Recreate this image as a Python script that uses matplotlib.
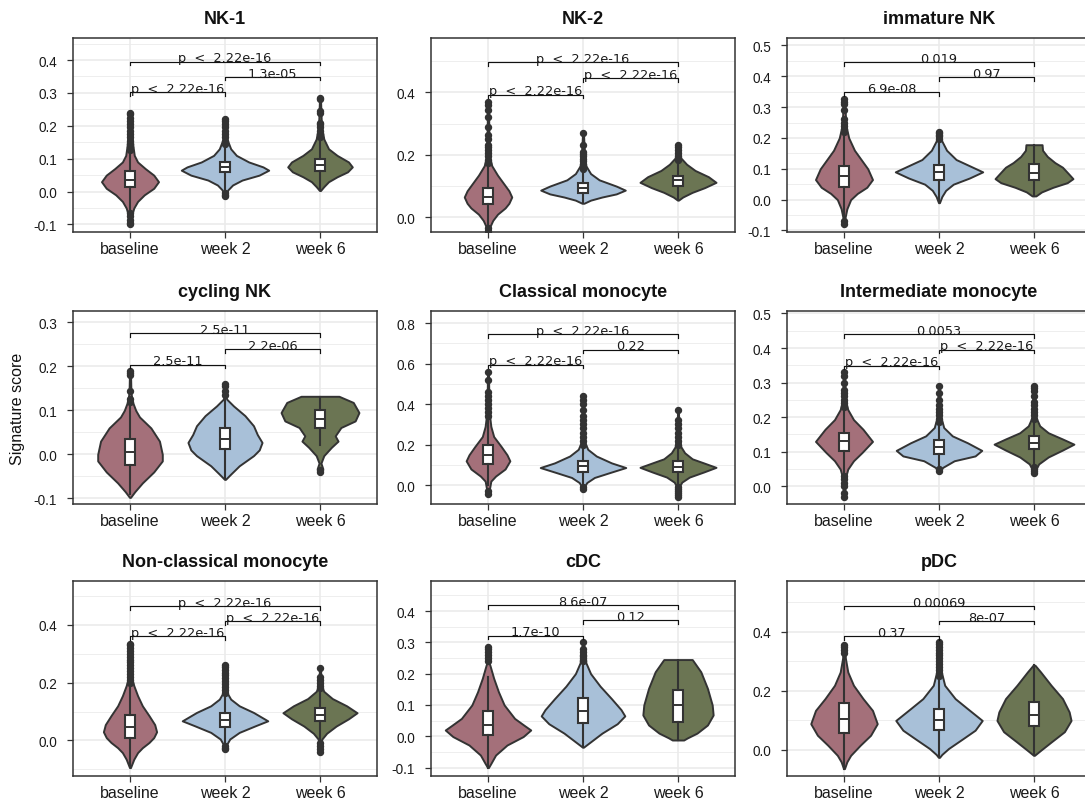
import numpy as np
import matplotlib
matplotlib.use("Agg")
import matplotlib.pyplot as plt
from matplotlib.ticker import AutoMinorLocator, NullLocator

plt.rcParams["font.family"] = ["Liberation Sans", "DejaVu Sans"]
plt.rcParams["axes.unicode_minus"] = False

GROUPS = ["baseline", "week 2", "week 6"]
COLORS = ["#A4707A", "#A8C0D8", "#6B7553"]
EDGE = "#333333"

TITLES = ["NK-1", "NK-2", "immature NK", "cycling NK", "Classical monocyte",
          "Intermediate monocyte", "Non-classical monocyte", "cDC", "pDC"]

# comparison order: baseline-week2, week2-week6, baseline-week6
PVALS = [
    ["p  <  2.22e-16", "1.3e-05", "p  <  2.22e-16"],
    ["p  <  2.22e-16", "p  <  2.22e-16", "p  <  2.22e-16"],
    ["6.9e-08", "0.97", "0.019"],
    ["2.5e-11", "2.2e-06", "2.5e-11"],
    ["p  <  2.22e-16", "0.22", "p  <  2.22e-16"],
    ["p  <  2.22e-16", "p  <  2.22e-16", "0.0053"],
    ["p  <  2.22e-16", "p  <  2.22e-16", "p  <  2.22e-16"],
    ["1.7e-10", "0.12", "8.6e-07"],
    ["0.37", "8e-07", "0.00069"],
]
BRACKET_Y = [
    [0.302, 0.349, 0.395],
    [0.393, 0.445, 0.496],
    [0.348, 0.396, 0.446],
    [0.204, 0.239, 0.275],
    [0.595, 0.669, 0.746],
    [0.349, 0.395, 0.440],
    [0.361, 0.413, 0.465],
    [0.321, 0.370, 0.418],
    [0.385, 0.437, 0.488],
]

# violin outlines: score levels and half widths (per group)
NK1_VY = [[0.24, 0.18, 0.14, 0.11, 0.09, 0.07, 0.05, 0.03, 0.01, -0.01, -0.03, -0.05, -0.07, -0.10],
          [0.22, 0.16, 0.13, 0.11, 0.09, 0.075, 0.065, 0.05, 0.035, 0.02, 0.005, -0.015],
          [0.285, 0.2, 0.16, 0.13, 0.11, 0.09, 0.075, 0.06, 0.045, 0.03, 0.015, 0.003]]
NK1_VW = [[0.005, 0.02, 0.03, 0.045, 0.08, 0.16, 0.25, 0.30, 0.25, 0.15, 0.08, 0.04, 0.02, 0.005],
          [0.005, 0.02, 0.06, 0.12, 0.25, 0.40, 0.46, 0.36, 0.18, 0.08, 0.03, 0.005],
          [0.005, 0.015, 0.04, 0.09, 0.18, 0.30, 0.34, 0.29, 0.18, 0.09, 0.04, 0.005]]
NK1_BOX = [[-0.055, 0.013, 0.035, 0.062, 0.12], [0.0, 0.058, 0.075, 0.09, 0.14], [0.005, 0.061, 0.08, 0.10, 0.16]]
NK1_OUT = [[0.125, 0.135, 0.145, 0.155, 0.165, 0.175, 0.185, 0.195, 0.205, 0.215, 0.225, 0.235, 0.24,
            -0.065, -0.075, -0.085, -0.095, -0.10],
           [0.145, 0.155, 0.165, 0.175, 0.185, 0.195, 0.205, 0.215, 0.22, -0.005, -0.01, -0.015],
           [0.165, 0.175, 0.185, 0.195, 0.205, 0.21, 0.24, 0.245, 0.28, 0.285]]

NK2_VY = [[0.37, 0.25, 0.19, 0.165, 0.135, 0.11, 0.085, 0.065, 0.045, 0.03, 0.01, -0.01, -0.03, -0.055],
          [0.27, 0.2, 0.165, 0.14, 0.12, 0.10, 0.087, 0.075, 0.065, 0.055, 0.045],
          [0.23, 0.19, 0.17, 0.15, 0.13, 0.112, 0.095, 0.08, 0.065, 0.055]]
NK2_VW = [[0.005, 0.01, 0.02, 0.04, 0.10, 0.16, 0.22, 0.25, 0.22, 0.18, 0.10, 0.05, 0.02, 0.005],
          [0.005, 0.015, 0.03, 0.08, 0.17, 0.35, 0.445, 0.35, 0.2, 0.08, 0.01],
          [0.005, 0.03, 0.09, 0.18, 0.32, 0.40, 0.28, 0.15, 0.05, 0.005]]
NK2_BOX = [[-0.025, 0.042, 0.065, 0.093, 0.17], [0.05, 0.078, 0.094, 0.11, 0.15], [0.06, 0.099, 0.118, 0.132, 0.18]]
NK2_OUT = [[0.175, 0.185, 0.195, 0.205, 0.215, 0.225, 0.23, 0.25, 0.265, 0.29, 0.32, 0.345, 0.36, 0.37,
            -0.035, -0.045, -0.055],
           [0.155, 0.163, 0.171, 0.179, 0.187, 0.195, 0.203, 0.21, 0.23, 0.27],
           [0.185, 0.195, 0.205, 0.215, 0.225, 0.23]]

IMM_VY = [[0.33, 0.24, 0.2, 0.16, 0.13, 0.1, 0.065, 0.04, 0.02, 0.0, -0.03, -0.06, -0.08],
          [0.22, 0.19, 0.16, 0.13, 0.11, 0.09, 0.07, 0.05, 0.03, 0.01, -0.01],
          [0.178, 0.16, 0.14, 0.12, 0.105, 0.085, 0.068, 0.055, 0.04, 0.025, 0.012]]
IMM_VW = [[0.005, 0.02, 0.05, 0.11, 0.18, 0.25, 0.30, 0.24, 0.14, 0.07, 0.03, 0.01, 0.005],
          [0.005, 0.03, 0.08, 0.18, 0.32, 0.46, 0.32, 0.15, 0.07, 0.03, 0.005],
          [0.085, 0.09, 0.14, 0.22, 0.30, 0.36, 0.41, 0.35, 0.2, 0.08, 0.02]]
IMM_BOX = [[-0.06, 0.04, 0.075, 0.11, 0.21], [-0.005, 0.062, 0.09, 0.113, 0.19], [0.012, 0.062, 0.085, 0.114, 0.178]]
IMM_OUT = [[0.22, 0.23, 0.24, 0.25, 0.26, 0.29, 0.31, 0.315, 0.325, -0.07, -0.08],
           [0.195, 0.205, 0.21, 0.215, 0.22],
           []]

CYC_VY = [[0.19, 0.14, 0.12, 0.10, 0.085, 0.06, 0.03, 0.0, -0.015, -0.04, -0.065, -0.085, -0.098],
          [0.16, 0.13, 0.125, 0.11, 0.088, 0.065, 0.045, 0.027, 0.01, -0.003, -0.026, -0.045, -0.057],
          [0.132, 0.118, 0.095, 0.076, 0.061, 0.042, 0.03, 0.016, -0.003, -0.02, -0.033, -0.042]]
CYC_VW = [[0.005, 0.01, 0.025, 0.06, 0.10, 0.22, 0.31, 0.34, 0.34, 0.25, 0.13, 0.05, 0.005],
          [0.005, 0.01, 0.02, 0.09, 0.21, 0.30, 0.34, 0.39, 0.36, 0.30, 0.15, 0.06, 0.005],
          [0.2, 0.35, 0.41, 0.37, 0.22, 0.16, 0.19, 0.12, 0.04, 0.01, 0.03, 0.005]]
CYC_BOX = [[-0.09, -0.024, 0.005, 0.035, 0.12], [-0.055, 0.011, 0.035, 0.059, 0.13], [0.022, 0.061, 0.08, 0.10, 0.13]]
CYC_OUT = [[0.12, 0.125, 0.145, 0.18, 0.185, 0.19],
           [0.135, 0.145, 0.155, 0.16],
           [-0.035, -0.04]]

CLA_VY = [[0.56, 0.4, 0.33, 0.29, 0.24, 0.19, 0.15, 0.12, 0.08, 0.045, 0.02, -0.045],
          [0.44, 0.3, 0.21, 0.177, 0.144, 0.11, 0.087, 0.062, 0.038, 0.013, -0.01, -0.02],
          [0.37, 0.25, 0.19, 0.16, 0.13, 0.11, 0.088, 0.065, 0.04, 0.015, -0.01, -0.06]]
CLA_VW = [[0.005, 0.01, 0.02, 0.03, 0.06, 0.14, 0.2, 0.23, 0.18, 0.08, 0.03, 0.005],
          [0.005, 0.01, 0.02, 0.05, 0.14, 0.3, 0.45, 0.28, 0.12, 0.04, 0.01, 0.005],
          [0.005, 0.01, 0.03, 0.07, 0.15, 0.27, 0.40, 0.27, 0.12, 0.04, 0.01, 0.005]]
CLA_BOX = [[0.0, 0.103, 0.15, 0.2, 0.33], [-0.005, 0.066, 0.093, 0.12, 0.2], [0.0, 0.067, 0.092, 0.12, 0.19]]
CLA_OUT = [[0.34, 0.36, 0.38, 0.40, 0.42, 0.44, 0.46, 0.52, 0.56, -0.03, -0.045],
           [0.2, 0.22, 0.24, 0.26, 0.28, 0.3, 0.32, 0.34, 0.37, 0.40, 0.42, 0.44, -0.01, -0.02],
           [0.2, 0.22, 0.24, 0.26, 0.28, 0.3, 0.32, 0.37, -0.01, -0.02, -0.03, -0.04, -0.05, -0.06]]

INT_VY = [[0.33, 0.25, 0.222, 0.193, 0.165, 0.13, 0.098, 0.074, 0.05, 0.03, 0.0, -0.03],
          [0.29, 0.2, 0.17, 0.146, 0.126, 0.104, 0.088, 0.074, 0.055, 0.045],
          [0.29, 0.2, 0.175, 0.155, 0.137, 0.122, 0.105, 0.085, 0.065, 0.045, 0.038]]
INT_VW = [[0.005, 0.015, 0.04, 0.1, 0.2, 0.3, 0.19, 0.1, 0.04, 0.02, 0.01, 0.005],
          [0.005, 0.02, 0.05, 0.14, 0.3, 0.45, 0.38, 0.16, 0.04, 0.005],
          [0.005, 0.02, 0.06, 0.15, 0.3, 0.42, 0.3, 0.15, 0.05, 0.01, 0.005]]
INT_BOX = [[0.04, 0.103, 0.13, 0.155, 0.22], [0.055, 0.095, 0.115, 0.134, 0.18], [0.06, 0.107, 0.125, 0.146, 0.19]]
INT_OUT = [[0.23, 0.24, 0.25, 0.26, 0.27, 0.28, 0.30, 0.32, 0.33, 0.03, 0.02, 0.01, 0.0, -0.02, -0.03],
           [0.185, 0.195, 0.205, 0.215, 0.225, 0.235, 0.25, 0.27, 0.29, 0.05, 0.045],
           [0.195, 0.205, 0.215, 0.225, 0.235, 0.245, 0.26, 0.275, 0.285, 0.29, 0.055, 0.05, 0.045, 0.04]]

NCL_VY = [[0.335, 0.22, 0.19, 0.155, 0.12, 0.086, 0.055, 0.03, 0.01, -0.007, -0.025, -0.042, -0.065, -0.094],
          [0.26, 0.19, 0.166, 0.143, 0.12, 0.097, 0.068, 0.051, 0.028, 0.005, -0.018, -0.03],
          [0.25, 0.19, 0.17, 0.145, 0.12, 0.096, 0.075, 0.05, 0.025, 0.005, -0.01, -0.04]]
NCL_VW = [[0.005, 0.015, 0.04, 0.08, 0.13, 0.2, 0.26, 0.28, 0.25, 0.2, 0.13, 0.08, 0.04, 0.005],
          [0.005, 0.01, 0.02, 0.06, 0.15, 0.3, 0.45, 0.32, 0.15, 0.05, 0.01, 0.005],
          [0.005, 0.015, 0.04, 0.13, 0.28, 0.39, 0.3, 0.17, 0.07, 0.02, 0.01, 0.005]]
NCL_BOX = [[-0.09, 0.008, 0.045, 0.089, 0.19], [-0.015, 0.045, 0.07, 0.095, 0.16], [-0.005, 0.068, 0.088, 0.114, 0.175]]
NCL_OUT = [[0.2, 0.21, 0.22, 0.23, 0.24, 0.25, 0.26, 0.27, 0.28, 0.29, 0.30, 0.31, 0.32, 0.33, 0.335],
           [0.165, 0.175, 0.185, 0.195, 0.205, 0.215, 0.225, 0.235, 0.245, 0.255, 0.26, -0.02, -0.025, -0.03],
           [0.18, 0.19, 0.2, 0.21, 0.22, 0.25, -0.01, -0.02, -0.03, -0.04]]

CDC_VY = [[0.285, 0.235, 0.227, 0.185, 0.142, 0.1, 0.057, 0.035, 0.02, -0.001, -0.028, -0.06, -0.087, -0.1],
          [0.3, 0.235, 0.2, 0.16, 0.12, 0.085, 0.065, 0.04, 0.01, -0.02, -0.035],
          [0.245, 0.206, 0.153, 0.1, 0.068, 0.036, 0.01, -0.005, -0.012]]
CDC_VW = [[0.005, 0.01, 0.02, 0.06, 0.11, 0.17, 0.28, 0.38, 0.45, 0.37, 0.2, 0.08, 0.03, 0.005],
          [0.005, 0.03, 0.08, 0.18, 0.3, 0.4, 0.44, 0.36, 0.2, 0.07, 0.005],
          [0.15, 0.24, 0.31, 0.36, 0.37, 0.31, 0.2, 0.1, 0.06]]
CDC_BOX = [[-0.1, 0.004, 0.035, 0.08, 0.19], [-0.035, 0.043, 0.08, 0.121, 0.235], [-0.012, 0.044, 0.1, 0.148, 0.245]]
CDC_OUT = [[0.24, 0.25, 0.26, 0.27, 0.28, 0.285],
           [0.24, 0.245, 0.25, 0.255, 0.26, 0.27, 0.28, 0.3],
           []]

PDC_VY = [[0.355, 0.31, 0.264, 0.219, 0.174, 0.134, 0.089, 0.05, 0.016, -0.018, -0.04, -0.063],
          [0.365, 0.27, 0.219, 0.174, 0.14, 0.1, 0.067, 0.038, 0.005, -0.015, -0.025],
          [0.287, 0.264, 0.219, 0.174, 0.129, 0.1, 0.062, 0.027, -0.001, -0.018]]
PDC_VW = [[0.005, 0.015, 0.04, 0.1, 0.2, 0.3, 0.35, 0.28, 0.17, 0.07, 0.03, 0.005],
          [0.005, 0.02, 0.06, 0.17, 0.3, 0.455, 0.38, 0.25, 0.1, 0.03, 0.005],
          [0.01, 0.07, 0.18, 0.3, 0.37, 0.39, 0.32, 0.18, 0.07, 0.005]]
PDC_BOX = [[-0.063, 0.057, 0.105, 0.159, 0.32], [-0.025, 0.067, 0.1, 0.138, 0.245], [-0.018, 0.08, 0.12, 0.163, 0.287]]
PDC_OUT = [[0.33, 0.34, 0.35, 0.355],
           [0.25, 0.26, 0.27, 0.28, 0.29, 0.30, 0.31, 0.32, 0.33, 0.34, 0.35, 0.36, 0.365],
           []]

VIOLIN_Y = [NK1_VY, NK2_VY, IMM_VY, CYC_VY, CLA_VY, INT_VY, NCL_VY, CDC_VY, PDC_VY]
VIOLIN_W = [NK1_VW, NK2_VW, IMM_VW, CYC_VW, CLA_VW, INT_VW, NCL_VW, CDC_VW, PDC_VW]
BOXES = [NK1_BOX, NK2_BOX, IMM_BOX, CYC_BOX, CLA_BOX, INT_BOX, NCL_BOX, CDC_BOX, PDC_BOX]
OUTLIERS = [NK1_OUT, NK2_OUT, IMM_OUT, CYC_OUT, CLA_OUT, INT_OUT, NCL_OUT, CDC_OUT, PDC_OUT]

# axis ranges and ticks
YLIMS = [(-0.123, 0.467), (-0.047, 0.574), (-0.105, 0.524),
         (-0.113, 0.326), (-0.093, 0.86), (-0.051, 0.507),
         (-0.123, 0.552), (-0.127, 0.496), (-0.088, 0.572)]
YTICKS = [[-0.1, 0.0, 0.1, 0.2, 0.3, 0.4], [0.0, 0.2, 0.4], [-0.1, 0.0, 0.1, 0.2, 0.3, 0.4, 0.5],
          [-0.1, 0.0, 0.1, 0.2, 0.3], [0.0, 0.2, 0.4, 0.6, 0.8], [0.0, 0.1, 0.2, 0.3, 0.4, 0.5],
          [0.0, 0.2, 0.4], [-0.1, 0.0, 0.1, 0.2, 0.3, 0.4], [0.0, 0.2, 0.4]]


def draw_panel(ax, i):
    pos = [1, 2, 3]
    vstats = []
    for yy, ww, b in zip(VIOLIN_Y[i], VIOLIN_W[i], BOXES[i]):
        yy = np.asarray(yy)
        vstats.append(dict(coords=yy, vals=np.asarray(ww), mean=b[2], median=b[2],
                           min=yy.min(), max=yy.max()))
    widths = [2 * max(w) for w in VIOLIN_W[i]]
    parts = ax.violin(vstats, positions=pos, widths=widths, showextrema=False)
    for body, c in zip(parts["bodies"], COLORS):
        body.set_facecolor(c)
        body.set_edgecolor(EDGE)
        body.set_linewidth(1.4)
        body.set_alpha(1)
        body.set_zorder(2)

    bstats = [dict(whislo=b[0], q1=b[1], med=b[2], q3=b[3], whishi=b[4], fliers=np.asarray(f))
              for b, f in zip(BOXES[i], OUTLIERS[i])]
    ax.bxp(bstats, positions=pos, widths=0.11, patch_artist=True, showcaps=False,
           manage_ticks=False, zorder=3,
           boxprops=dict(facecolor="white", edgecolor=EDGE, linewidth=1.5),
           medianprops=dict(color=EDGE, linewidth=1.4),
           whiskerprops=dict(color=EDGE, linewidth=1.5),
           flierprops=dict(marker="o", markerfacecolor=EDGE, markeredgecolor=EDGE,
                           markersize=4.3, linestyle="none"))

    # significance brackets
    lo, hi = YLIMS[i]
    tip = 0.018 * (hi - lo)
    for (a, b), y, txt in zip([(1, 2), (2, 3), (1, 3)], BRACKET_Y[i], PVALS[i]):
        ax.plot([a, a, b, b], [y - tip, y, y, y - tip], color="#111111", lw=0.85, zorder=4)
        ax.annotate(txt, xy=((a + b) / 2, y), xytext=(0, 0.2), textcoords="offset points",
                    ha="center", va="baseline", fontsize=9.3, family="DejaVu Sans",
                    color="#1a1a1a", zorder=5)

    ax.set_xlim(0.4, 3.6)
    ax.set_ylim(lo, hi)
    ax.set_xticks(pos)
    ax.set_xticklabels(GROUPS)
    ax.set_yticks(YTICKS[i])
    ax.set_yticklabels([f"{t:.1f}" for t in YTICKS[i]])
    ax.yaxis.set_minor_locator(AutoMinorLocator(2))
    ax.xaxis.set_minor_locator(NullLocator())
    ax.tick_params(axis="x", labelsize=11.5, colors=EDGE, length=4.5, width=0.9, pad=2,
                   labelcolor="#1a1a1a")
    ax.tick_params(axis="y", labelsize=9.8, colors=EDGE, length=4.5, width=0.9, pad=7,
                   labelcolor="#1a1a1a")
    ax.tick_params(which="minor", length=0)
    ax.grid(which="major", color="#EBEBEB", lw=1.2)
    ax.grid(which="minor", axis="y", color="#EBEBEB", lw=0.6)
    ax.set_axisbelow(True)
    for s in ax.spines.values():
        s.set_color(EDGE)
        s.set_linewidth(1.1)
    ax.set_title(TITLES[i], fontsize=13, fontweight="bold", pad=11, color="#111111")


fig = plt.figure(figsize=(10.85, 8.03), dpi=100)
W, H = 1085.0, 803.0
col_left = [73, 431, 787]
row_top = [39, 312, 582]
row_bot = [233, 505, 777]
for i in range(9):
    r, c = divmod(i, 3)
    ax = fig.add_axes([col_left[c] / W, (H - row_bot[r]) / H, 304 / W, (row_bot[r] - row_top[r]) / H])
    draw_panel(ax, i)
    if i == 3:
        ax.set_ylabel("Signature score", fontsize=11.5, color="#111111", labelpad=6)

fig.savefig("out.png", dpi=100)
